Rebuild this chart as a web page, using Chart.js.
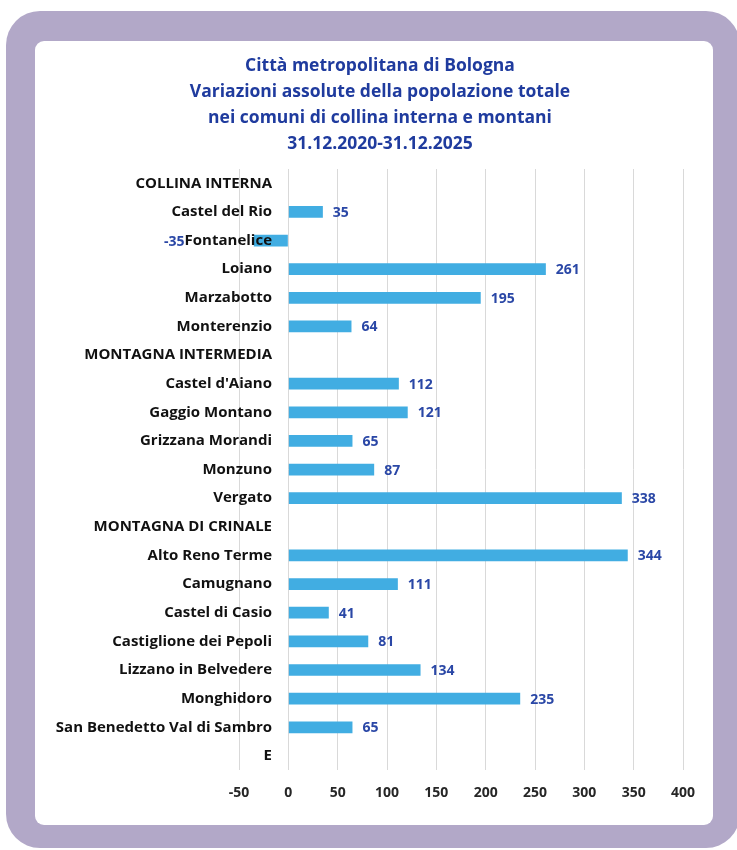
<!DOCTYPE html>
<html>
<head>
<meta charset="utf-8">
<script src="https://cdn.jsdelivr.net/npm/chart.js@4.4.0/dist/chart.umd.min.js"></script>
<style>
  html, body { margin: 0; padding: 0; background: #ffffff; }
  body { width: 737px; height: 850px; position: relative; overflow: hidden; }
  #cornice {
    position: absolute; left: 6px; top: 11px; width: 734px; height: 837px;
    background: #b2a8c8; border-radius: 34px;
  }
  #scheda {
    position: absolute; left: 35px; top: 41px; width: 678px; height: 784px;
    background: #ffffff; border-radius: 9px;
  }
  #grafico { position: absolute; left: 35px; top: 41px; }
</style>
</head>
<body>
<div id="cornice"></div>
<div id="scheda"></div>
<canvas id="grafico" width="678" height="784"></canvas>
<script>
const comuni = [
    'COLLINA INTERNA', 'Castel del Rio', 'Fontanelice', 'Loiano', 'Marzabotto', 'Monterenzio',
    'MONTAGNA INTERMEDIA', "Castel d'Aiano", 'Gaggio Montano', 'Grizzana Morandi', 'Monzuno', 'Vergato',
    'MONTAGNA DI CRINALE', 'Alto Reno Terme', 'Camugnano', 'Castel di Casio', 'Castiglione dei Pepoli',
    'Lizzano in Belvedere', 'Monghidoro', 'San Benedetto Val di Sambro', 'E'
];
const variazioni = [
    null, 35, -35, 261, 195, 64,
    null, 112, 121, 65, 87, 338,
    null, 344, 111, 41, 81, 134, 235, 65,
    null
];
const titolo = [
    'Città metropolitana di Bologna',
    'Variazioni assolute della popolazione totale',
    'nei comuni di collina interna e montani',
    '31.12.2020-31.12.2025'
];
const asseMin = -50;
const asseMax = 400;
const passo = 50;

const fontBase = "'Open Sans', Lato, sans-serif";
const fontCategorie = 'bold 15px ' + fontBase;
const fontValori = 'bold 14px ' + fontBase;
const blu = '#2a47a6';

// etichette dei valori accanto alle barre
const etichette = {
    id: 'etichette',
    afterDatasetsDraw(chart) {
        const ctx = chart.ctx;
        const meta = chart.getDatasetMeta(0);
        const xScale = chart.scales.x;
        ctx.save();
        ctx.textBaseline = 'middle';
        meta.data.forEach((bar, i) => {
            const v = variazioni[i];
            if (v === null) return;
            if (v >= 0) {
                ctx.font = fontValori;
                ctx.fillStyle = blu;
                ctx.textAlign = 'left';
                ctx.fillText(String(v), bar.x + 10, bar.y + 1);
            } else {
                // il valore negativo finisce dove comincia il nome del comune
                ctx.font = fontCategorie;
                const w = ctx.measureText(comuni[i]).width;
                const fine = xScale.left + 33 - w;
                ctx.font = fontValori;
                ctx.fillStyle = blu;
                ctx.textAlign = 'right';
                ctx.fillText(String(v), fine, bar.y + 1);
            }
        });
        ctx.restore();
    }
};

const ctx = document.getElementById('grafico').getContext('2d');
new Chart(ctx, {
    type: 'bar',
    data: {
        labels: comuni,
        datasets: [{
            data: variazioni,
            backgroundColor: '#41ade2',
            borderWidth: 0,
            categoryPercentage: 1,
            barPercentage: 0.41
        }]
    },
    options: {
        indexAxis: 'y',
        responsive: false,
        animation: false,
        layout: { padding: { left: 42, right: 30, top: 0, bottom: 10 } },
        scales: {
            x: {
                min: asseMin,
                max: asseMax,
                ticks: {
                    stepSize: passo,
                    padding: 14,
                    color: '#262626',
                    font: { family: fontBase, size: 14, weight: 'bold' }
                },
                grid: { color: '#d9d9d9', lineWidth: 1, drawTicks: false },
                border: { display: false }
            },
            y: {
                afterFit: (scale) => {
                    scale.width = 162;
                    // i nomi sporgono dentro l'area del grafico, come nell'originale
                    scale._computeLabelArea = () => undefined;
                },
                ticks: {
                    z: 1, // nomi sopra le barre
                    padding: -33,
                    color: '#111111',
                    autoSkip: false,
                    font: { family: fontBase, size: 15, weight: 'bold' }
                },
                grid: { display: false, drawTicks: false },
                border: { display: false }
            }
        },
        plugins: {
            legend: { display: false },
            tooltip: { enabled: false },
            title: {
                display: true,
                text: titolo,
                color: '#1f3b9e',
                font: { family: fontBase, size: 17.5, weight: 'bold', lineHeight: '26px' },
                padding: { top: 12, bottom: 12 }
            }
        }
    },
    plugins: [etichette]
});
</script>
</body>
</html>
